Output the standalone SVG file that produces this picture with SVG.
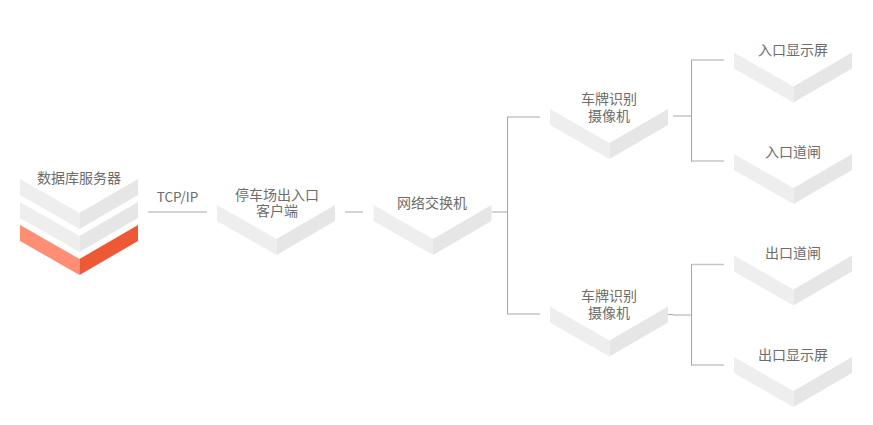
<svg xmlns="http://www.w3.org/2000/svg" width="873" height="425" viewBox="0 0 873 425">
<style>
.l{fill:#eeeeee}.r{fill:#e6e6e6}
.t{font-family:"Noto Sans CJK SC","Noto Sans",sans-serif;font-size:14px;fill:#6c6c6c;text-anchor:middle}
.c{fill:none;stroke:#c6c6c6;stroke-width:1.600}
.v{fill:none;stroke:#a8a8a8;stroke-width:1}
</style>
<defs>
<g id="chev"><polygon class="l" points="0,0 59.5,34 59.5,50 0,16"/><polygon class="r" points="59.5,34 118,0 118,16 59.5,50"/></g>
</defs>
<rect width="873" height="425" fill="#fff"/>
<g id="connectors">
<path class="c" d="M148 212H207M345 212H363M492 212H507M507 117H540M507 314H540M673 116H691M691 60H724M691 161H724M673 315H691M691 264.500H724M691 365H724"/>
<path class="v" d="M668 314.500H673M507.500 117V314M691.500 60V161.500M691.500 264.500V365.500"/>
</g>
<g id="db">
<use href="#chev" x="20" y="179"/>
<use href="#chev" x="20" y="202"/>
<polygon fill="#ff8e74" points="20,225 79.500,259 79.500,275 20,241"/>
<polygon fill="#ee5835" points="79.500,259 138,225 138,241 79.500,275"/>
<text class="t" x="79" y="183">数据库服务器</text>
</g>
<g id="tcp"><text class="t" x="177.500" y="202" font-size="13.500" style="font-size:13.500px">TCP/IP</text></g>
<g id="client">
<use href="#chev" x="217" y="205"/>
<text class="t" x="277" y="200">停车场出入口<tspan x="277" dy="16">客户端</tspan></text>
</g>
<g id="switch">
<use href="#chev" x="373.500" y="205"/>
<text class="t" x="432" y="208">网络交换机</text>
</g>
<g id="cam1">
<use href="#chev" x="550" y="109"/>
<text class="t" x="609" y="104">车牌识别<tspan x="609" dy="17">摄像机</tspan></text>
</g>
<g id="cam2">
<use href="#chev" x="550" y="306.500"/>
<text class="t" x="609" y="301">车牌识别<tspan x="609" dy="17">摄像机</tspan></text>
</g>
<g id="screen-in">
<use href="#chev" x="734" y="52.500"/>
<text class="t" x="793" y="55">入口显示屏</text>
</g>
<g id="gate-in">
<use href="#chev" x="734" y="154"/>
<text class="t" x="793" y="157">入口道闸</text>
</g>
<g id="gate-out">
<use href="#chev" x="734" y="255.500"/>
<text class="t" x="793" y="258">出口道闸</text>
</g>
<g id="screen-out">
<use href="#chev" x="734" y="357"/>
<text class="t" x="793" y="360">出口显示屏</text>
</g>
</svg>
